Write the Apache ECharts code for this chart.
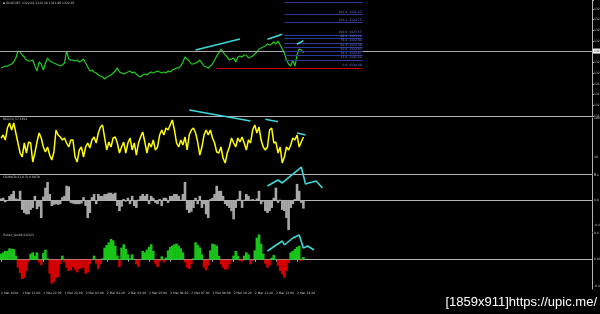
<!DOCTYPE html>
<html><head><meta charset="utf-8">
<script src="https://cdn.jsdelivr.net/npm/echarts@6/dist/echarts.min.js"></script>
<style>html,body{margin:0;padding:0;background:#000}#c{width:600px;height:314px}</style>
</head><body><div id="c"></div>
<script>
// ---- data ----
const timeLabels = ["1 Mar 2018","1 Mar 13:00","1 Mar 22:20","1 Mar 23:40","2 Mar 01:00","2 Mar 02:20","2 Mar 03:40","2 Mar 05:00","2 Mar 06:20","2 Mar 07:40","2 Mar 09:00","2 Mar 10:20","2 Mar 11:40","2 Mar 13:00","2 Mar 14:20"];

const price = [
1320.49,1320.58,1320.67,1320.67,1320.77,1320.86,1321.05,1321.42,1322.07,1321.98,
1321.70,1321.51,1321.23,1321.14,1321.14,1321.23,1320.67,1320.20,1321.05,1320.86,
1320.30,1320.95,1321.42,1321.14,1321.05,1320.95,1320.86,1320.77,1320.67,1320.77,
1320.95,1322.07,1321.33,1321.23,1321.23,1321.14,1321.23,1321.05,1321.14,1321.33,
1320.95,1320.58,1320.20,1320.30,1320.11,1320.02,1319.83,1319.74,1319.64,1319.46,
1319.64,1319.74,1319.83,1320.02,1320.20,1320.49,1320.11,1320.02,1319.92,1320.02,
1320.11,1320.20,1320.02,1320.11,1319.92,1319.74,1319.64,1319.83,1319.92,1319.83,
1320.02,1320.11,1320.02,1320.11,1320.20,1320.11,1320.02,1320.11,1320.02,1320.20,
1320.11,1320.30,1320.39,1320.49,1320.49,1320.67,1321.05,1321.51,1321.33,1321.14,
1320.86,1320.86,1320.95,1321.05,1321.23,1320.95,1320.67,1320.58,1320.49,1320.67,
1320.86,1321.23,1321.61,1321.89,1322.26,1321.98,1321.70,1321.51,1321.23,1321.33,
1321.42,1321.05,1321.51,1321.61,1321.51,1321.70,1321.70,1321.42,1321.51,1321.61,
1321.79,1321.98,1322.26,1322.35,1322.45,1322.54,1322.73,1322.63,1322.73,1322.92,
1322.73,1323.01,1322.63,1322.26,1321.89,1321.23,1320.86,1320.67,1321.23,1320.67,
1321.70,1322.26,1322.17,1321.89];

const rsi = [
64.3,69.6,60.7,82.1,91.1,78.6,91.1,73.2,55.4,37.5,
30.4,55.4,37.5,57.1,55.4,21.4,37.5,57.1,73.2,64.3,
48.2,39.3,48.2,33.9,25.0,39.3,78.6,69.6,66.1,60.7,
64.3,55.4,48.2,60.7,60.7,30.4,21.4,42.9,48.2,30.4,
48.2,55.4,46.4,60.7,66.1,55.4,73.2,83.9,87.5,64.3,
42.9,57.1,48.2,64.3,66.1,55.4,37.5,48.2,57.1,37.5,
55.4,64.3,42.9,55.4,33.9,55.4,66.1,75.0,57.1,37.5,
55.4,48.2,60.7,42.9,48.2,69.6,78.6,69.6,82.1,78.6,
87.5,96.4,78.6,55.4,48.2,60.7,51.8,66.1,42.9,69.6,
78.6,82.1,73.2,57.1,33.9,48.2,69.6,78.6,69.6,78.6,
64.3,55.4,39.3,37.5,48.2,28.6,19.6,37.5,48.2,64.3,
55.4,48.2,64.3,57.1,66.1,55.4,42.9,60.7,55.4,78.6,
87.5,73.2,83.9,60.7,48.2,42.9,48.2,78.6,82.1,55.4,
57.1,37.5,48.2,19.6,30.4,48.2,42.9,51.8,64.3,60.7,
69.6,48.2,57.1,66.1];

const cci = [
0.03,0.04,-0.03,-0.01,0.07,0.10,0.15,0.03,0.02,0.15,
-0.15,-0.20,-0.22,-0.22,-0.15,-0.12,0.07,-0.14,-0.10,-0.28,
0.06,0.20,0.29,0.10,-0.09,-0.07,-0.06,-0.07,-0.06,0.05,
0.07,0.23,0.22,-0.04,-0.05,-0.06,-0.06,-0.06,-0.05,0.05,
-0.09,-0.28,-0.20,0.05,0.10,-0.06,0.10,0.07,0.07,0.10,
0.10,0.12,0.12,0.10,0.12,-0.09,-0.17,-0.10,0.02,-0.02,
0.04,-0.06,0.07,-0.09,-0.12,0.01,0.07,0.10,0.07,0.10,
-0.06,0.07,0.04,-0.04,-0.06,0.02,-0.09,0.04,0.04,-0.04,
0.07,0.07,0.10,0.10,0.07,0.01,0.10,0.29,-0.15,-0.20,
-0.18,-0.12,0.04,-0.06,0.07,-0.12,-0.06,-0.22,-0.28,0.02,
0.04,0.10,0.23,0.15,0.15,0.07,-0.06,-0.09,-0.12,-0.17,
-0.30,-0.12,0.02,0.15,-0.12,0.01,0.10,0.07,0.01,0.02,
-0.01,0.03,0.15,-0.06,-0.02,-0.17,-0.20,-0.17,-0.12,0.04,
0.20,-0.04,0.01,-0.15,-0.17,-0.28,-0.47,-0.12,-0.06,0.02,
0.26,0.15,-0.04,-0.13];

const fisher = [
0.09,0.11,0.13,0.13,0.17,0.16,0.16,0.06,-0.12,-0.20,
-0.29,-0.27,-0.17,-0.04,0.09,0.11,0.06,0.11,-0.04,-0.08,
0.10,0.15,0.02,-0.21,-0.36,-0.33,-0.27,-0.26,-0.07,0.06,
-0.04,-0.12,-0.17,-0.16,-0.11,-0.15,-0.19,-0.14,-0.13,-0.12,
-0.21,-0.19,-0.06,-0.01,0.06,-0.06,-0.14,-0.07,0.02,0.18,
0.22,0.26,0.31,0.29,0.21,0.06,-0.11,0.18,0.23,0.16,
0.08,0.02,0.08,0.01,-0.07,-0.11,-0.01,0.13,0.11,0.15,
0.19,0.23,0.13,-0.06,-0.11,-0.02,0.05,-0.04,0.03,0.14,
0.19,0.21,0.23,0.24,0.21,0.17,0.11,-0.04,-0.12,-0.14,
-0.07,0.02,0.26,0.22,0.18,0.08,-0.12,-0.16,-0.09,0.14,
0.24,0.23,0.21,0.06,-0.07,-0.12,-0.15,-0.14,-0.07,-0.01,
0.06,0.13,0.06,-0.02,-0.03,0.06,0.11,0.08,-0.07,-0.02,
0.14,0.33,0.38,0.24,0.09,-0.06,-0.12,-0.08,0.03,0.07,
0.01,-0.09,-0.17,-0.22,-0.27,-0.17,-0.05,0.11,0.13,0.16,
0.19,0.21,-0.02,0.04];

const bidPrice = 1322.07;
const fibLow = 1320.49;
const fibHigh = 1323.57;
const fibLevels = [23.6, 38.2, 50.0, 61.8, 76.4, 88.6, 100.0, 138.2, 161.8, 200.0];

// drawn trend lines: [bar index, value]
const trendMain1 = [[91.7,1322.17],[113.0,1323.20]];
const trendMain2 = [[126.4,1323.17],[132.8,1323.64]];
const trendMain3 = [[139.9,1322.70],[142.7,1323.04]];
const trendRsi1 = [[89.4,114.3],[117.8,94.6]];
const trendRsi2 = [[124.9,97.7],[131.2,93.4]];
const trendRsi3 = [[139.5,73.2],[143.8,69.6]];
const trendCci = [[126.3,0.226],[131.0,0.321],[133.4,0.274],[141.9,0.526],[143.8,0.258],[148.5,0.305],[151.8,0.195]];
const trendFisher = [[126.3,0.13],[132.9,0.28],[134.3,0.22],[137.6,0.325],[141.4,0.37],[143.3,0.175],[145.2,0.205],[147.6,0.145]];

// ---- chart ----
const N_CATS = 280;
const categories = Array.from({length: N_CATS}, (_, i) => (i % 10 === 0 && timeLabels[i / 10]) ? timeLabels[i / 10] : '');
const fibStart = 134.3, fibEnd = 170.7, redStart = 102.2, redEnd = 171.2;

const AX = '#b4b4b4', TXT = '#c8c8c8', FONT = 'DejaVu Sans';
const near = (a, b) => Math.abs(a - b) < 1e-6;

const grids = [
  {left: 0, right: 8, top: 0, height: 116, outerBoundsMode: 'none', containLabel: false},
  {left: 0, right: 8, top: 118, height: 56, outerBoundsMode: 'none', containLabel: false},
  {left: 0, right: 8, top: 175, height: 57, outerBoundsMode: 'none', containLabel: false},
  {left: 0, right: 8, top: 233, height: 56, outerBoundsMode: 'none', containLabel: false}
];

const xAxes = grids.map((g, i) => ({
  type: 'category', gridIndex: i, data: categories, boundaryGap: true,
  axisLine: {show: true, lineStyle: {color: AX, width: 1}},
  axisTick: i === 3 ? {show: true, alignWithLabel: true, length: 2, interval: (idx, v) => v !== '', lineStyle: {color: AX}} : {show: false},
  axisLabel: i === 3 ? {show: true, interval: 0, fontSize: 3, color: TXT, align: 'left', margin: 3, fontFamily: FONT} : {show: false},
  splitLine: {show: false}
}));

const yBase = (i) => ({
  type: 'value', gridIndex: i, position: 'right', scale: true,
  axisLine: {show: true, lineStyle: {color: AX, width: 1}},
  axisTick: {show: false},
  splitLine: {show: false},
  axisLabel: {fontSize: 3, color: TXT, margin: 2, fontFamily: FONT}
});
const yAxes = [
  Object.assign(yBase(0), {min: 1316, max: 1326.84, interval: 1,
    axisTick: {show: true, length: 2, lineStyle: {color: AX}},
    axisLabel: {fontSize: 3, color: TXT, margin: 2, fontFamily: FONT,
      formatter: v => (near(v, Math.round(v)) && v <= 1326) ? v.toFixed(2) : ''}}),
  Object.assign(yBase(1), {min: 0, max: 100, interval: 10,
    axisLabel: {fontSize: 3, color: TXT, margin: 2, fontFamily: FONT,
      formatter: v => (near(v, 100) || near(v, 30) || near(v, 0)) ? String(Math.round(v)) : ''}}),
  Object.assign(yBase(2), {min: -0.5, max: 0.4, interval: 0.1,
    axisLabel: {fontSize: 3, color: TXT, margin: 2, fontFamily: FONT,
      formatter: v => near(v, 0.4) ? '0.4' : near(v, 0) ? '0.0' : near(v, -0.4) ? '-0.4' : ''}}),
  Object.assign(yBase(3), {min: -0.44, max: 0.4, interval: 0.04,
    axisLabel: {fontSize: 3, color: TXT, margin: 2, fontFamily: FONT,
      formatter: v => near(v, 0.4) ? '0.4' : near(v, 0) ? '0.00' : near(v, -0.4) ? '-0.4' : ''}})
];

const fibLabel = (lvl, p) => ({show: true, position: 'insideEndTop', distance: 1, fontSize: 3, color: '#6f7fe0', fontFamily: FONT,
  formatter: lvl.toFixed(1) + '  ' + p.toFixed(2)});

const markData = [
  {yAxis: bidPrice, lineStyle: {color: '#a8a8a8', width: 1, type: 'solid'},
   label: {show: true, position: 'end', distance: 1, formatter: bidPrice.toFixed(2), backgroundColor: '#ffffff', color: '#000', fontSize: 3, padding: [1, 1], fontFamily: FONT}},
  [{coord: [redStart, fibLow], lineStyle: {color: '#d00000', width: 1, type: 'solid'},
    label: {show: true, position: 'insideEndTop', distance: 1, fontSize: 3, color: '#6f7fe0', fontFamily: FONT, formatter: '0.0  ' + fibLow.toFixed(2)}},
   {coord: [redEnd, fibLow]}]
];
fibLevels.forEach(l => {
  const p = fibLow + (fibHigh - fibLow) * l / 100;
  markData.push([{coord: [fibStart, p], lineStyle: {color: '#2a3a96', width: 1, type: 'solid'}, label: fibLabel(l, p)}, {coord: [fibEnd, p]}]);
});

const CYAN = '#3bd8d8';
const trend = (data, gi) => ({type: 'line', xAxisIndex: gi, yAxisIndex: gi, data: data, symbol: 'none', clip: false, silent: true,
  lineStyle: {color: CYAN, width: 1.6}, z: 10, animation: false});

const option = {
  backgroundColor: '#000000',
  animation: false,
  grid: grids,
  xAxis: xAxes,
  yAxis: yAxes,
  series: [
    {type: 'line', xAxisIndex: 0, yAxisIndex: 0, data: price, symbol: 'none',
     lineStyle: {color: '#22cc22', width: 1.2},
     markLine: {symbol: 'none', silent: true, animation: false, data: markData}},
    {type: 'line', xAxisIndex: 1, yAxisIndex: 1, data: rsi, symbol: 'none', lineStyle: {color: '#ffff00', width: 1.5}},
    {type: 'bar', xAxisIndex: 2, yAxisIndex: 2, data: cci, barWidth: 2.6, itemStyle: {color: '#a8a8a8'}},
    {type: 'bar', xAxisIndex: 3, yAxisIndex: 3, data: fisher, barWidth: 2.6,
     itemStyle: {color: p => p.value >= 0 ? '#19c419' : '#d40000'}},
    trend(trendMain1, 0), trend(trendMain2, 0), trend(trendMain3, 0),
    trend(trendRsi1, 1), trend(trendRsi2, 1), trend(trendRsi3, 1),
    trend(trendCci, 2), trend(trendFisher, 3)
  ],
  graphic: [
    {type: 'text', style: {text: '\u25aa GOLD,M5  1322.03 1322.18 1321.96 1322.07', x: 3, y: 2, fill: TXT, font: '3px "DejaVu Sans"'}},
    {type: 'text', style: {text: 'RSI(13) 57.1614', x: 3, y: 117.5, fill: TXT, font: '3px "DejaVu Sans"'}},
    {type: 'text', style: {text: 'CGMACD(12,0.5) 0.0079', x: 3, y: 175.5, fill: TXT, font: '3px "DejaVu Sans"'}},
    {type: 'text', style: {text: 'Fisher_Yur4ik 0.0223', x: 3, y: 233.5, fill: TXT, font: '3px "DejaVu Sans"'}},
    {type: 'text', style: {text: '[1859x911]https://upic.me/', x: 597, y: 302, align: 'right', verticalAlign: 'middle', fill: '#ffffff', font: '13px "Liberation Sans"'}}
  ]
};
const chart = echarts.init(document.getElementById('c'), null, {renderer: 'canvas'});
chart.setOption(option);
</script></body></html>
